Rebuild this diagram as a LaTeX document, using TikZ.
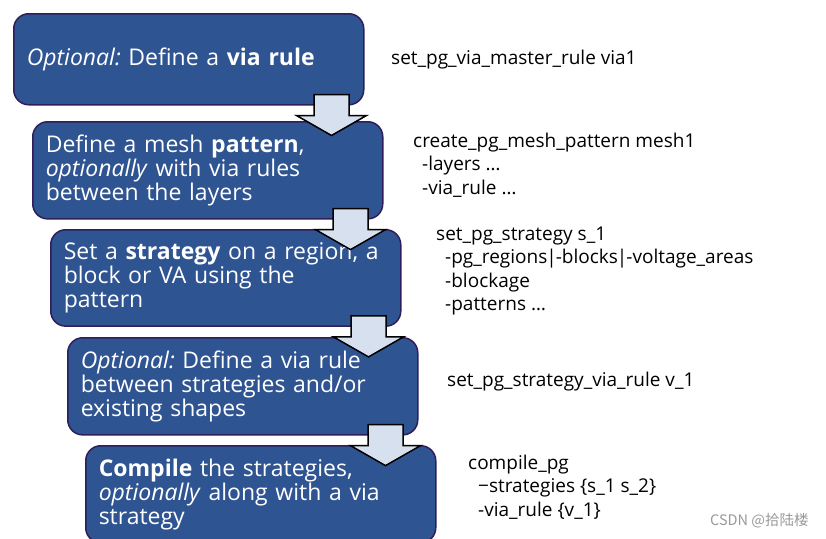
\documentclass[tikz,border=0pt]{standalone}
\usepackage{fontspec}
\setmainfont{Open Sans}
\newfontfamily\cjkfont{Noto Sans CJK SC}
\usetikzlibrary{calc,positioning}
\pgfdeclarelayer{foreground}
\pgfsetlayers{main,foreground}
\frenchspacing

\definecolor{boxblue}{RGB}{47,84,146}
\definecolor{boxedge}{RGB}{46,30,92}
\definecolor{arrowfill}{RGB}{214,224,238}

\tikzset{
  stepbox/.style={draw=boxedge, line width=1.5pt, fill=boxblue, rounded corners=15pt,
    minimum height=91pt, text width=324pt, inner sep=13pt, align=left,
    anchor=north west, text=white, font=\fontsize{23}{24}\selectfont},
  cmd/.style={anchor=north west, inner sep=0pt, align=left, font=\fontsize{19}{23.2}\selectfont},
  blockarrow/.style={draw=black, line width=1.5pt, fill=arrowfill, miter limit=10}
}

% block arrow hanging from the lower right part of a step box
\newcommand{\steparrow}[1]{%
  \coordinate (#1arr) at ($(#1.south east)+(-33,0)$);
  \draw[blockarrow] ($(#1arr)+(-17.5,-11)$) -- ($(#1arr)+(17.5,-11)$)
    -- ($(#1arr)+(17.5,10)$) -- ($(#1arr)+(35,10)$) -- ($(#1arr)+(0,30)$)
    -- ($(#1arr)+(-35,10)$) -- ($(#1arr)+(-17.5,10)$) -- cycle;}

\begin{document}
\begin{tikzpicture}[x=1pt,y=-1pt]
\useasboundingbox (0,0) rectangle (826,538);

% the five steps
\node[stepbox] (step1) at (13,13) {\textit{Optional:} Define a \textbf{via rule}};
\node[stepbox] (step2) at (32,121) {Define a mesh \textbf{pattern},\\
  \textit{optionally} with via rules\\ between the layers};
\node[stepbox] (step3) at (50,229) {Set a \textbf{strategy} on a region, a\\
  block or VA using the\\ pattern};
\node[stepbox] (step4) at (67,337) {\textit{Optional:} Define a via rule\\
  between strategies and/or\\ existing shapes};
\node[stepbox] (step5) at (85,445) {\textbf{Compile} the strategies,\\
  \textit{optionally} along with a via\\ strategy};

\begin{pgfonlayer}{foreground}
  \steparrow{step1}
  \steparrow{step2}
  \steparrow{step3}
  \steparrow{step4}
\end{pgfonlayer}

% commands
\node[cmd] (cmd1) at (391,50) {set\_pg\_via\_master\_rule via1};
\node[cmd] (cmd2) at (413,133) {create\_pg\_mesh\_pattern mesh1\\
  \hspace*{9pt}-layers \dots\\ \hspace*{9pt}-via\_rule \dots};
\node[cmd] (cmd3) at (436,227) {set\_pg\_strategy s\_1\\
  \hspace*{9pt}-pg\_regions\kern-1pt|\kern-1pt-blocks\kern-1pt|\kern-1pt-voltage\_areas\\
  \hspace*{9pt}-blockage\\ \hspace*{9pt}-patterns \dots};
\node[cmd] (cmd4) at (447,372) {set\_pg\_strategy\_via\_rule v\_1};
\node[cmd] (cmd5) at (468,455) {compile\_pg\\
  \hspace*{10pt}−strategies \{s\_1 s\_2\}\\ \hspace*{10pt}-via\_rule \{v\_1\}};

\node[anchor=west, inner sep=0pt, text=black!40, font=\cjkfont\fontsize{14.5}{14.5}\selectfont] (mark) at (710,521) {CSDN @拾陆楼};
\end{tikzpicture}
\end{document}
